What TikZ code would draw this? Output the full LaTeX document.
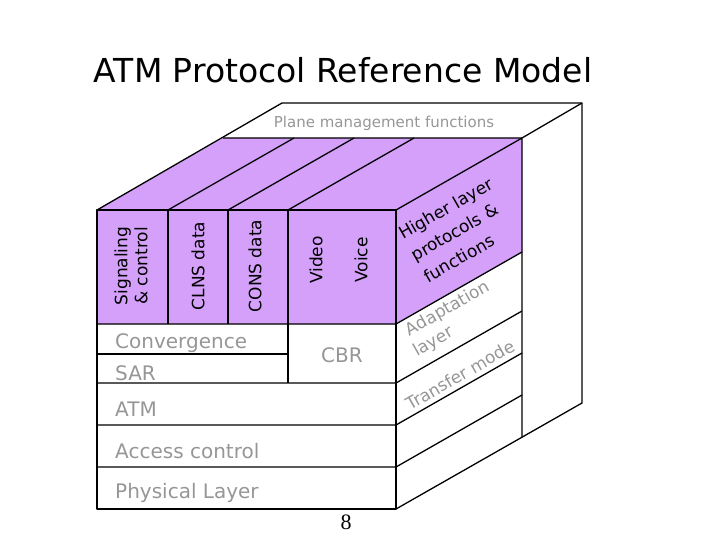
\documentclass[tikz,border=0pt]{standalone}
\usepackage{fontspec}
\setmainfont{DejaVu Sans}
\newfontfamily\serifnum{Liberation Serif}
\definecolor{lilac}{RGB}{212,160,250}
\definecolor{lbl}{RGB}{150,150,150}
\begin{document}
\begin{tikzpicture}[x=1pt,y=-1pt,
  edge/.style={line width=1.3pt,line join=round},
  gtxt/.style={text=lbl,font=\fontsize{20}{24}\selectfont,inner sep=0pt},
  vtxt/.style={font=\fontsize{17}{20}\selectfont,rotate=90,align=center,inner sep=0pt},
  stxt/.style={text=lbl,font=\fontsize{17}{20}\selectfont,rotate=29.7,inner sep=0pt},
  ptxt/.style={font=\fontsize{17}{25}\selectfont,rotate=29.7,align=left,inner sep=0pt}]
\useasboundingbox (0,0) rectangle (720,540);
% purple faces
\fill[lilac] (97,210) -- (223,138) -- (522,138) -- (522,252) -- (396,324) -- (97,324) -- cycle;
% plane management top
\draw[edge] (97,210) -- (282,103) -- (582,103) -- (582,403) -- (396,509);
\draw[edge] (223,138) -- (522,138) -- (582,103);
% front face
\draw[edge] (97,210) rectangle (396,509);
\foreach \y in {324,383,425,467} \draw[edge] (97,\y) -- (396,\y) -- ++(126,-72);
\draw[edge] (97,354) -- (288,354);
\draw[edge] (288,210) -- (288,383);
\draw[edge] (168,210) -- (168,324);
\draw[edge] (228,210) -- (228,324);
\foreach \x in {168,228,288} \draw[edge] (\x,210) -- ++(126,-72);
\draw[edge] (396,210) -- (522,138) -- (522,437);
% title
\node (title) at (343,70) {\fontsize{33}{38}\selectfont ATM Protocol Reference Model};
\node[text=lbl,font=\fontsize{15}{18}\selectfont] (pm) at (384,123) {Plane management functions};
\node[vtxt] (sig) at (131,266) {Signaling\\\& control};
\node[vtxt] (clns) at (198,266) {CLNS data};
\node[vtxt] (cons) at (255,266) {CONS data};
\node[vtxt] (video) at (316,260) {Video};
\node[vtxt] (voice) at (361,260) {Voice};
\node[ptxt] (hl) at (458,230) {Higher layer\\protocols \&\\functions};
\node[gtxt,anchor=west] (conv) at (115,343) {Convergence};
\node[gtxt,anchor=west] (sar) at (115,373) {SAR};
\node[gtxt] (cbr) at (342,355) {CBR};
\node[gtxt,anchor=west] (atm) at (115,409) {ATM};
\node[gtxt,anchor=west] (acc) at (115,451) {Access control};
\node[gtxt,anchor=west] (phy) at (115,493) {Physical Layer};
\node[stxt] (ad) at (448,309) {Adaptation};
\node[stxt] (lay) at (434,342) {layer};
\node[stxt] (tm) at (460,375) {Transfer mode};
\node[font=\serifnum\fontsize{22}{26}\selectfont] (pg) at (346,522) {8};
\end{tikzpicture}
\end{document}
